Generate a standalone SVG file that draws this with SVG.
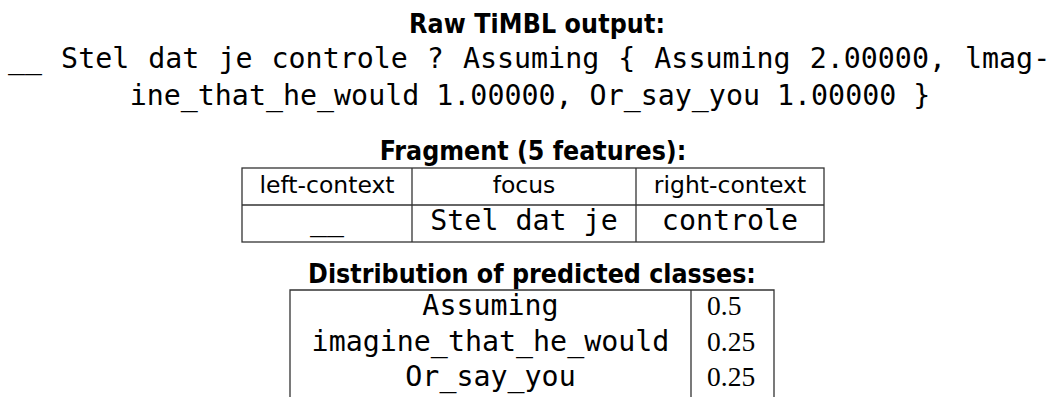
<svg xmlns="http://www.w3.org/2000/svg" width="1054" height="397" viewBox="0 0 1054 397">
  <style>
    .head { font-family: "DejaVu Sans Condensed", "DejaVu Sans", sans-serif; font-weight: bold; font-size: 26.5px; fill: #000; text-anchor: middle; }
    .mono { font-family: "DejaVu Sans Mono", monospace; font-size: 28.3px; fill: #000; }
    .cell { font-family: "DejaVu Sans", sans-serif; font-size: 23.5px; fill: #000; text-anchor: middle; }
    .num { font-family: "Liberation Serif", "DejaVu Serif", serif; font-size: 27.5px; fill: #000; }
    .mid { text-anchor: middle; }
    .rule { stroke: #333; stroke-width: 1.3; fill: none; }
  </style>
  <rect width="1054" height="397" fill="#fff"/>

  <!-- raw output block -->
  <g id="raw-output">
    <text class="head" x="537" y="33" textLength="256">Raw TiMBL output:</text>
    <text class="mono" x="8" y="68" word-spacing="2">__ Stel dat je controle ? Assuming { Assuming 2.00000, lmag-</text>
    <text class="mono mid" x="530" y="105">ine_that_he_would 1.00000, Or_say_you 1.00000 }</text>
  </g>

  <!-- fragment table -->
  <g id="fragment">
    <text class="head" x="533" y="160">Fragment (5 features):</text>
    <rect class="rule" x="242" y="168" width="582" height="74"/>
    <line class="rule" x1="242" y1="205" x2="824" y2="205"/>
    <line class="rule" x1="412" y1="168" x2="412" y2="242"/>
    <line class="rule" x1="636" y1="168" x2="636" y2="242"/>
    <text class="cell" x="327" y="193">left-context</text>
    <text class="cell" x="524" y="193">focus</text>
    <text class="cell" x="730" y="193">right-context</text>
    <text class="mono mid" x="327" y="230">__</text>
    <text class="mono mid" x="524" y="230">Stel dat je</text>
    <text class="mono mid" x="730" y="230">controle</text>
  </g>

  <!-- class distribution table -->
  <g id="distribution">
    <text class="head" x="532" y="283">Distribution of predicted classes:</text>
    <path class="rule" d="M290 397 V290 H774 V397 M691 290 V397"/>
    <text class="mono mid" x="490.5" y="315">Assuming</text>
    <text class="mono mid" x="490.5" y="351">imagine_that_he_would</text>
    <text class="mono mid" x="490.5" y="386">Or_say_you</text>
    <text class="num" x="707" y="315">0.5</text>
    <text class="num" x="707" y="351">0.25</text>
    <text class="num" x="707" y="386">0.25</text>
  </g>
</svg>
